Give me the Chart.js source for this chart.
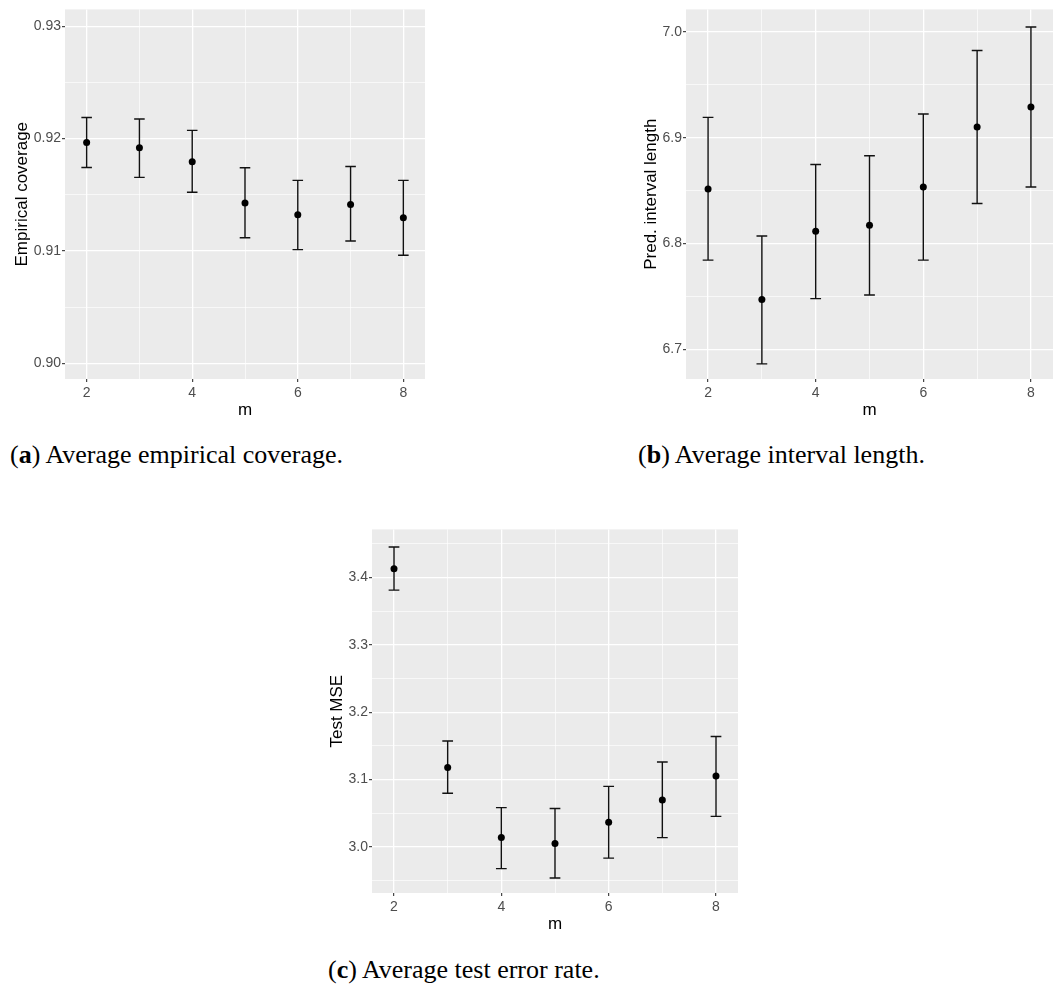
<!DOCTYPE html>
<html>
<head>
<meta charset="utf-8">
<script src="https://cdn.jsdelivr.net/npm/chart.js@4.4.1/dist/chart.umd.min.js"></script>
<style>
  html, body { margin: 0; padding: 0; background: #fff; }
  body { width: 1057px; height: 985px; position: relative; overflow: hidden; }
  .panel { position: absolute; }
  .panel canvas { display: block; }
  .caption {
    position: absolute;
    font-family: "Liberation Serif", "Times New Roman", serif;
    font-size: 26px;
    line-height: 26px;
    color: #000;
    white-space: nowrap;
  }
</style>
</head>
<body>
<div class="panel" style="left:0;top:0"><canvas id="coverageChart" width="440" height="425"></canvas></div>
<div class="panel" style="left:620px;top:0"><canvas id="lengthChart" width="437" height="425"></canvas></div>
<div class="panel" style="left:320px;top:520px"><canvas id="mseChart" width="430" height="420"></canvas></div>

<div class="caption" style="left:10px;top:442px">(<b>a</b>) Average empirical coverage.</div>
<div class="caption" style="left:638px;top:442px">(<b>b</b>) Average interval length.</div>
<div class="caption" style="left:328px;top:957px">(<b>c</b>) Average test error rate.</div>

<script>
const mValues = [2, 3, 4, 5, 6, 7, 8];
const mTicks = [2, 4, 6, 8];

const coverageMean  = [0.91965, 0.91918, 0.91794, 0.91427, 0.91321, 0.91413, 0.91295];
const coverageLower = [0.91743, 0.91655, 0.91522, 0.91118, 0.91012, 0.91088, 0.90962];
const coverageUpper = [0.92188, 0.92174, 0.92073, 0.91741, 0.91628, 0.91752, 0.91628];
const coverageTicks = [0.90, 0.91, 0.92, 0.93];

const lengthMean  = [6.8515, 6.7469, 6.8115, 6.8171, 6.8534, 6.9102, 6.9289];
const lengthLower = [6.7842, 6.6861, 6.7478, 6.7513, 6.7842, 6.8378, 6.8534];
const lengthUpper = [6.9192, 6.8070, 6.8747, 6.8829, 6.9224, 6.9825, 7.0047];
const lengthTicks = [6.7, 6.8, 6.9, 7.0];

const mseMean  = [3.4126, 3.1180, 3.0140, 3.0053, 3.0368, 3.0696, 3.1054];
const mseLower = [3.3811, 3.0798, 2.9680, 2.9540, 2.9836, 3.0140, 3.0455];
const mseUpper = [3.4450, 3.1572, 3.0585, 3.0571, 3.0900, 3.1262, 3.1640];
const mseTicks = [3.0, 3.1, 3.2, 3.3, 3.4];

const SANS = '"Liberation Sans", Arial, sans-serif';
const CAP_HALF = 0.1; // errorbar cap half-width in m units

// major breaks plus ggplot-style minor breaks halfway between them
function withMinor(major, lo, hi) {
    const step = major[1] - major[0];
    const out = [major[0] - step / 2];
    major.forEach(v => { out.push(v, v + step / 2); });
    return out.map(v => Number(v.toFixed(6))).filter(v => v >= lo && v <= hi);
}

function isMajor(v, major) {
    return major.some(t => Math.abs(t - v) < 1e-6);
}

const panelBg = {
    id: 'panelBg',
    beforeDraw(chart) {
        const { ctx, chartArea: a } = chart;
        ctx.save();
        ctx.fillStyle = '#ebebeb';
        ctx.fillRect(a.left, a.top, a.width, a.height);
        ctx.restore();
    },
};

const errorBars = {
    id: 'errorBars',
    beforeDatasetsDraw(chart) {
        const { ctx, scales: { x, y } } = chart;
        ctx.save();
        ctx.strokeStyle = '#111';
        ctx.lineWidth = 1.4;
        chart.data.datasets.forEach(ds => {
            ds.data.forEach((pt, i) => {
                const px = x.getPixelForValue(pt.x);
                const half = x.getPixelForValue(pt.x + CAP_HALF) - px;
                const top = y.getPixelForValue(ds.upper[i]);
                const bot = y.getPixelForValue(ds.lower[i]);
                ctx.beginPath();
                ctx.moveTo(px, top);
                ctx.lineTo(px, bot);
                ctx.moveTo(px - half, top);
                ctx.lineTo(px + half, top);
                ctx.moveTo(px - half, bot);
                ctx.lineTo(px + half, bot);
                ctx.stroke();
            });
        });
        ctx.restore();
    },
};

function makePanel(id, p) {
    const xMin = 1.59, xMax = 8.41;
    const xAll = withMinor(mTicks, xMin, xMax);
    const yAll = withMinor(p.ticks, p.yMin, p.yMax);

    return new Chart(document.getElementById(id), {
        type: 'scatter',
        data: {
            datasets: [{
                data: mValues.map((m, i) => ({ x: m, y: p.mean[i] })),
                lower: p.lower,
                upper: p.upper,
                pointRadius: 3.5,
                pointBackgroundColor: '#000',
                pointBorderWidth: 0,
            }],
        },
        options: {
            responsive: false,
            animation: false,
            events: [],
            layout: { padding: p.padding },
            plugins: { legend: { display: false }, tooltip: { enabled: false } },
            scales: {
                x: {
                    type: 'linear',
                    min: xMin,
                    max: xMax,
                    afterBuildTicks: s => { s.ticks = xAll.map(v => ({ value: v })); },
                    afterFit: s => { s.height = p.xAxisHeight; },
                    border: { display: false },
                    grid: {
                        color: '#fff',
                        lineWidth: c => (isMajor(c.tick.value, mTicks) ? 1.3 : 0.65),
                        tickLength: 3,
                        tickWidth: 1.1,
                        tickColor: c => (isMajor(c.tick.value, mTicks) ? '#333' : 'rgba(0,0,0,0)'),
                    },
                    ticks: {
                        autoSkip: false,
                        maxRotation: 0,
                        padding: 3,
                        color: '#4d4d4d',
                        font: { family: SANS, size: 14 },
                        callback: v => (isMajor(v, mTicks) ? String(v) : ''),
                    },
                    title: {
                        display: true,
                        text: 'm',
                        color: '#000',
                        font: { family: SANS, size: 17 },
                        padding: { top: 0, bottom: p.xTitlePad },
                    },
                },
                y: {
                    type: 'linear',
                    min: p.yMin,
                    max: p.yMax,
                    afterBuildTicks: s => { s.ticks = yAll.map(v => ({ value: v })); },
                    afterFit: s => { s.width = p.yAxisWidth; },
                    border: { display: false },
                    grid: {
                        color: '#fff',
                        lineWidth: c => (isMajor(c.tick.value, p.ticks) ? 1.3 : 0.65),
                        tickLength: 3,
                        tickWidth: 1.1,
                        tickColor: c => (isMajor(c.tick.value, p.ticks) ? '#333' : 'rgba(0,0,0,0)'),
                    },
                    ticks: {
                        autoSkip: false,
                        padding: 1,
                        color: '#4d4d4d',
                        font: { family: SANS, size: 14 },
                        callback: v => (isMajor(v, p.ticks) ? v.toFixed(p.decimals) : ''),
                    },
                    title: {
                        display: true,
                        text: p.title,
                        color: '#000',
                        font: { family: SANS, size: 17 },
                        padding: { top: p.yTitlePad, bottom: 0 },
                    },
                },
            },
        },
        plugins: [panelBg, errorBars],
    });
}

makePanel('coverageChart', {
    mean: coverageMean, lower: coverageLower, upper: coverageUpper,
    ticks: coverageTicks, decimals: 2, yMin: 0.8986, yMax: 0.9315,
    title: 'Empirical coverage',
    padding: { top: 7, right: 15, bottom: 0, left: 0 },
    yAxisWidth: 65, xAxisHeight: 46, yTitlePad: 12, xTitlePad: 4,
});

makePanel('lengthChart', {
    mean: lengthMean, lower: lengthLower, upper: lengthUpper,
    ticks: lengthTicks, decimals: 1, yMin: 6.6718, yMax: 7.0213,
    title: 'Pred. interval length',
    padding: { top: 7, right: 4, bottom: 0, left: 0 },
    yAxisWidth: 66, xAxisHeight: 46, yTitlePad: 21, xTitlePad: 4,
});

makePanel('mseChart', {
    mean: mseMean, lower: mseLower, upper: mseUpper,
    ticks: mseTicks, decimals: 1, yMin: 2.9318, yMax: 3.4711,
    title: 'Test MSE',
    padding: { top: 2, right: 12, bottom: 0, left: 0 },
    yAxisWidth: 52, xAxisHeight: 47, yTitlePad: 7, xTitlePad: 5,
});
</script>
</body>
</html>
